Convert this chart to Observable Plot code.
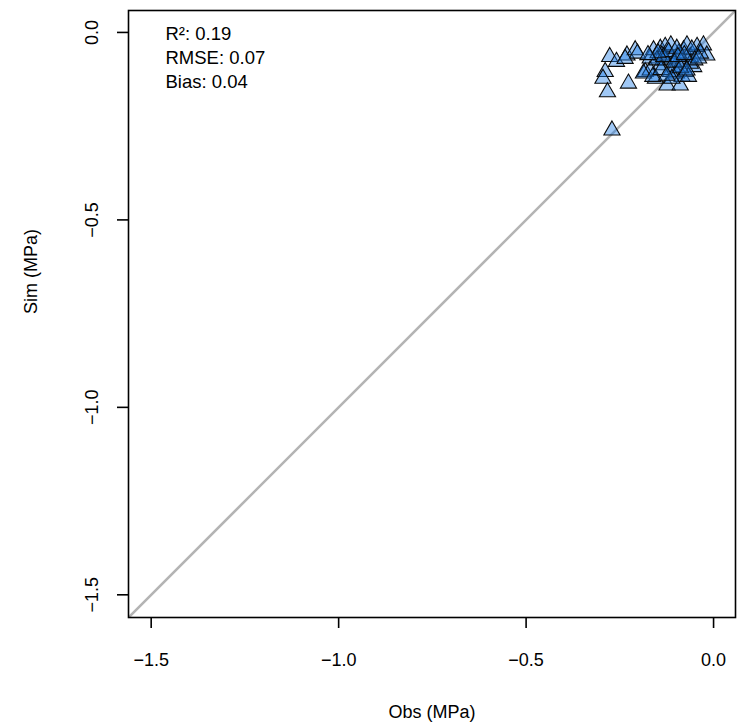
<!DOCTYPE html>
<html>
<head>
<meta charset="utf-8">
<script src="https://cdn.jsdelivr.net/npm/d3@7"></script>
<script src="https://cdn.jsdelivr.net/npm/@observablehq/plot@0.6"></script>
<style>
  html, body { margin: 0; padding: 0; background: #fff; }
  #chart { width: 746px; height: 727px; }
</style>
</head>
<body>
<div id="chart"></div>
<script>
// Observed vs simulated (MPa)
const obs = [-0.277,-0.259,-0.289,-0.295,-0.283,-0.227,-0.271,-0.231,-0.209,-0.203,
  -0.182,-0.169,-0.160,-0.142,-0.129,-0.114,-0.155,-0.124,-0.089,-0.142,
  -0.129,-0.102,-0.099,-0.080,-0.071,-0.062,-0.053,-0.044,-0.027,-0.018,
  -0.075,-0.084,-0.115,-0.169,-0.062,-0.035,-0.093,-0.111,-0.138,-0.151,
  -0.084,-0.067,-0.111,-0.187,-0.162,-0.133,-0.120,-0.098,-0.058,-0.050,
  -0.106,-0.088,-0.140,-0.071,-0.040,-0.148,-0.125,-0.095,-0.078,-0.175,-0.236];
const sim = [-0.065,-0.078,-0.105,-0.123,-0.159,-0.136,-0.261,-0.061,-0.047,-0.056,
  -0.105,-0.069,-0.047,-0.043,-0.038,-0.034,-0.123,-0.141,-0.141,-0.087,
  -0.074,-0.092,-0.109,-0.047,-0.034,-0.065,-0.092,-0.038,-0.034,-0.061,
  -0.105,-0.078,-0.105,-0.101,-0.083,-0.056,-0.056,-0.069,-0.061,-0.074,
  -0.118,-0.118,-0.123,-0.109,-0.118,-0.065,-0.052,-0.043,-0.045,-0.074,
  -0.080,-0.095,-0.100,-0.101,-0.069,-0.055,-0.115,-0.065,-0.060,-0.060,-0.070];
const ticks = [-1.5, -1.0, -0.5, 0.0];
const tickLabels = ["\u22121.5", "\u22121.0", "\u22120.5", "0.0"];
const statLines = ["R\u00b2: 0.19", "RMSE: 0.07", "Bias: 0.04"];
const oneToOne = [-2, 1];
const xLabel = "Obs (MPa)";
const yLabel = "Sim (MPa)";

const points = obs.map((o, i) => ({obs: o, sim: sim[i]}));
const tickData = ticks.map((t, i) => ({t, label: tickLabels[i]}));
const dom = [-1.5605, 0.0585];
const FONT = "'Liberation Sans', Arial, Helvetica, sans-serif";

const chart = Plot.plot({
  width: 746,
  height: 727,
  marginLeft: 128,
  marginRight: 11,
  marginTop: 10,
  marginBottom: 110,
  style: {fontFamily: FONT, fontSize: "18px", background: "#fff", color: "#000"},
  x: {domain: dom, axis: null},
  y: {domain: dom, axis: null},
  marks: [
    Plot.line(oneToOne, {x: d => d, y: d => d, stroke: "#B4B4B4", strokeWidth: 2.6, clip: true}),
    Plot.dot(points, {x: "obs", y: "sim", symbol: "triangle", r: 6,
      fill: "#1C7BE8", fillOpacity: 0.42, stroke: "#0a0a0a", strokeWidth: 1.1}),
    Plot.frame({stroke: "#000", strokeWidth: 1.6}),
    Plot.axisX(ticks, {anchor: "bottom", tickSize: 11, tickPadding: 25,
      tickFormat: d => tickLabels[ticks.indexOf(d)],
      fontSize: 18, strokeWidth: 1.6, label: null}),
    Plot.axisY(ticks, {anchor: "left", tickSize: 11, tickFormat: () => "", strokeWidth: 1.6, label: null}),
    Plot.text(tickData, {y: "t", text: "label", frameAnchor: "left", dx: -36, rotate: -90,
      textAnchor: "middle", fontSize: 18, fill: "#000"}),
    Plot.text([xLabel], {text: d => d, frameAnchor: "bottom", dy: 100, fontSize: 18, fill: "#000"}),
    Plot.text([yLabel], {text: d => d, frameAnchor: "left", dx: -97, rotate: -90, fontSize: 18, fill: "#000"}),
    ...statLines.map((s, i) => Plot.text([s], {text: d => d, frameAnchor: "top-left",
      dx: 37, dy: 16 + i * 24, textAnchor: "start", fontSize: 18.5, fill: "#000"}))
  ]
});
document.getElementById("chart").appendChild(chart);
</script>
</body>
</html>
